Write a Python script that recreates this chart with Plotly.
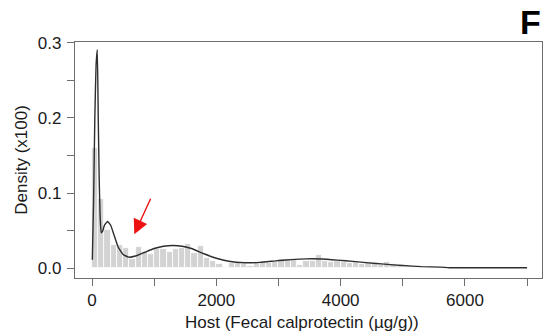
import plotly.graph_objects as go

# Histogram of fecal calprotectin, 100 µg/g bins (density x100)
bin_width = 100
bin_heights = [
    0.160, 0.092, 0.051, 0.031, 0.031, 0.027, 0.012, 0.028, 0.021, 0.019,
    0.0255, 0.0255, 0.022, 0.0255, 0.027, 0.032, 0.0205, 0.029, 0.0133, 0.010,
    0.0053, 0.002, 0.0066, 0.0066, 0.005, 0.003, 0.0075, 0.0075, 0.0066, 0.0075,
    0.012, 0.012, 0.0111, 0.0044, 0.010, 0.010, 0.018, 0.0088, 0.0075, 0.0088,
    0.0075, 0.0066, 0.0075, 0.005, 0.008, 0.0066, 0.0044, 0.0075, 0.0053, 0.003,
    0.002, 0.001, 0.0, 0.0, 0.0, 0.0, 0.0, 0.0, 0.0, 0.0015,
    0.0, 0.0, 0.0, 0.0, 0.0, 0.0, 0.0, 0.0, 0.0, 0.0015,
]
bin_centers = [i * bin_width + bin_width / 2 for i in range(len(bin_heights))]

# Kernel density estimate
kde_x = [5, 25, 45, 65, 85, 100, 115, 130, 148, 170, 200, 250, 300, 350, 420,
         500, 590, 700, 850, 1000, 1150, 1300, 1450, 1600, 1800, 2000, 2200,
         2450, 2700, 2950, 3200, 3450, 3700, 3950, 4200, 4450, 4700, 5000,
         5300, 5600, 5750, 6000, 6500, 7000]
kde_y = [0.011, 0.09, 0.20, 0.27, 0.291, 0.20, 0.12, 0.07, 0.047, 0.049, 0.057,
         0.062, 0.057, 0.045, 0.028, 0.018, 0.0145, 0.016, 0.021, 0.026, 0.029,
         0.030, 0.029, 0.026, 0.019, 0.013, 0.009, 0.007, 0.0075, 0.0095,
         0.0112, 0.0122, 0.012, 0.0105, 0.0088, 0.0068, 0.0052, 0.0033, 0.0018,
         0.0012, 0.0004, 0.0003, 0.0003, 0.0003]

x_ticks = [0, 1000, 2000, 3000, 4000, 5000, 6000, 7000]
x_tick_labels = ["0", "", "2000", "", "4000", "", "6000", ""]
y_ticks = [0.0, 0.05, 0.1, 0.15, 0.2, 0.25, 0.3]
y_tick_labels = ["0.0", "", "0.1", "", "0.2", "", "0.3"]

# Arrow marking the shoulder after the second peak
arrow_tip = (680, 0.045)

font_family = "Liberation Sans, Arial, sans-serif"
axis_color = "#6e6e6e"

fig = go.Figure()
fig.add_trace(go.Bar(
    x=bin_centers, y=bin_heights, width=bin_width,
    marker=dict(color="#d3d3d3", line=dict(color="white", width=0.8)),
    showlegend=False,
))
fig.add_trace(go.Scatter(
    x=kde_x, y=kde_y, mode="lines",
    line=dict(color="#2e2e2e", width=1.4, shape="spline", smoothing=0.4),
    showlegend=False,
))

fig.update_layout(
    width=543, height=335,
    margin=dict(l=75, r=1, t=42, b=57),
    paper_bgcolor="white", plot_bgcolor="white",
    font=dict(family=font_family, size=17, color="#1a1a1a"),
    bargap=0,
    xaxis=dict(
        range=[-274, 7240], tickvals=x_ticks, ticktext=x_tick_labels,
        ticks="outside", ticklen=7, tickwidth=1.3, tickcolor=axis_color,
        showline=True, linecolor=axis_color, linewidth=1.3, mirror=True,
        showgrid=False, zeroline=False, ticklabelstandoff=-1,
    ),
    yaxis=dict(
        range=[-0.0133, 0.3013], tickvals=y_ticks, ticktext=y_tick_labels,
        ticks="outside", ticklen=7, tickwidth=1.3, tickcolor=axis_color,
        showline=True, linecolor=axis_color, linewidth=1.3, mirror=True,
        showgrid=False, zeroline=False, ticklabelstandoff=2,
    ),
    annotations=[
        dict(text="Host (Fecal calprotectin (µg/g))", xref="paper", yref="paper",
             x=0.486, y=-0.19, xanchor="center", yanchor="middle",
             showarrow=False, font=dict(size=17)),
        dict(text="Density (x100)", xref="paper", yref="paper",
             x=-0.1135, y=0.501, xanchor="center", yanchor="middle",
             textangle=-90, showarrow=False, font=dict(size=17)),
        dict(text="<b>F</b>", xref="paper", yref="paper",
             x=0.976, y=1.084, xanchor="center", yanchor="middle",
             showarrow=False, font=dict(size=34, color="black")),
        dict(x=arrow_tip[0], y=arrow_tip[1], xref="x", yref="y",
             ax=17, ay=-37, axref="pixel", ayref="pixel",
             showarrow=True, arrowhead=2, arrowsize=2.1, arrowwidth=1.4,
             arrowcolor="#ee1111", text=""),
    ],
)

fig.write_html("out.html")
